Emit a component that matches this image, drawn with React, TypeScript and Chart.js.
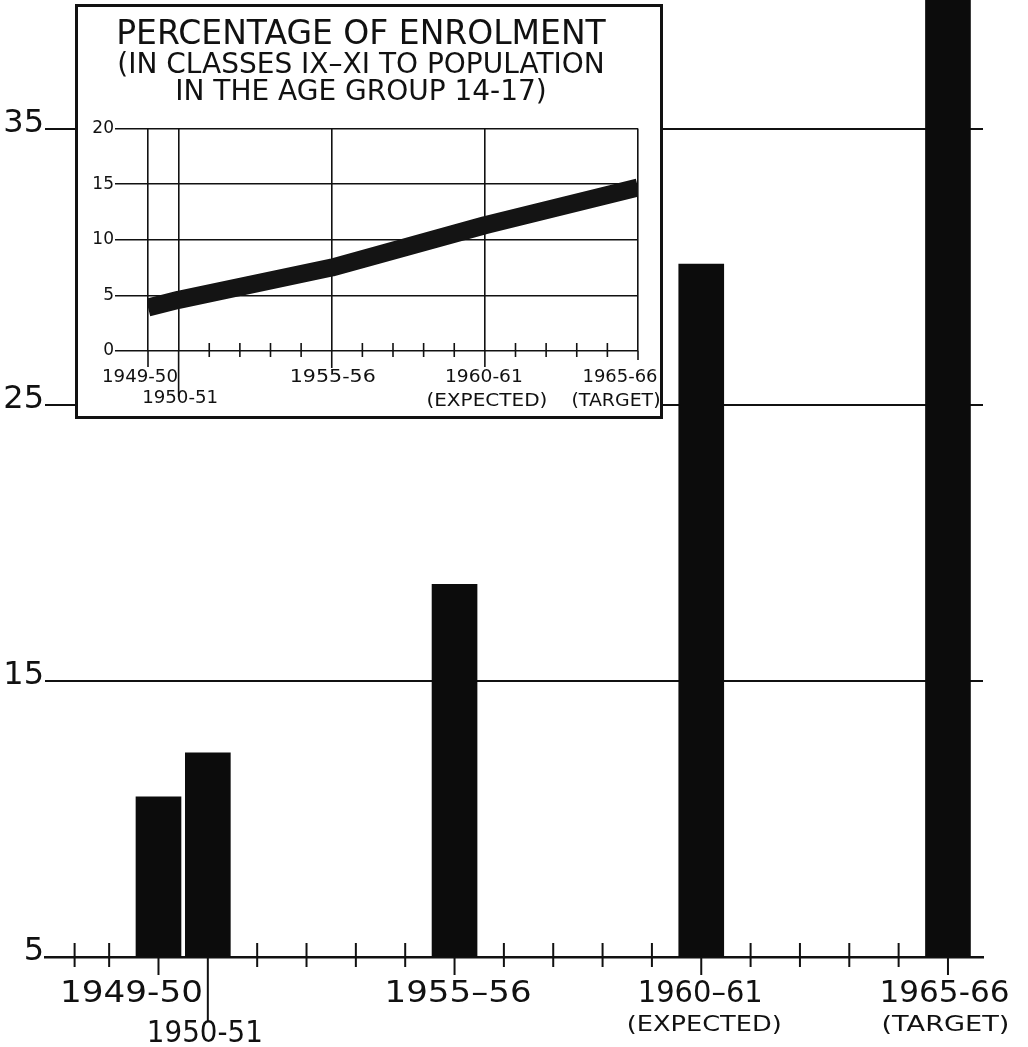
import React, { useEffect, useRef } from "react";
import { Chart, registerables } from "chart.js";

Chart.register(...registerables);

// ---------- data ----------
const MAIN_YEARS = [1949, 1950, 1955, 1960, 1965];
const MAIN_VALUES = [10.8, 12.4, 18.5, 30.1, 42];
const MAIN_Y_TICKS = [5, 15, 25, 35];
const MAIN_MINOR_TICKS = [1947.3, 1948, 1951, 1952, 1953, 1954, 1956, 1957, 1958, 1959, 1961, 1962, 1963, 1964];
const MAIN_X_LABELS = ["1949-50", "1950-51", "1955\u201356", "1960\u201361", "1965-66"];
const MAIN_X_NOTES = ["", "", "", "(EXPECTED)", "(TARGET)"];
const MAIN_X_MIN = 1946.7;
const MAIN_X_MAX = 1965.71;
const MAIN_Y_MIN = 5;
const MAIN_Y_MAX = 39.67;

const INSET_YEARS = [1949, 1950, 1955, 1960, 1965];
const INSET_VALUES = [3.9, 4.6, 7.5, 11.3, 14.7];
const INSET_Y_TICKS = [0, 5, 10, 15, 20];
const INSET_MINOR_TICKS = [1951, 1952, 1953, 1954, 1956, 1957, 1958, 1959, 1961, 1962, 1963, 1964];
const INSET_X_LABELS = ["1949-50", "1950-51", "1955-56", "1960-61", "1965-66"];
const INSET_X_NOTES = ["", "", "", "(EXPECTED)", "(TARGET)"];
const INSET_TITLE = "PERCENTAGE OF ENROLMENT";
const INSET_SUBTITLE = ["(IN CLASSES IX\u2013XI TO POPULATION", "IN THE AGE GROUP 14-17)"];

// ---------- style ----------
const INK = "#111";
const FONT = '"DejaVu Sans", sans-serif';

function fitText(ctx: CanvasRenderingContext2D, text: string, cx: number, y: number, size: number, width: number) {
  ctx.save();
  ctx.font = `${size}px ${FONT}`;
  const w = ctx.measureText(text).width || 1;
  ctx.translate(cx, y);
  ctx.scale(width / w, 1);
  ctx.textAlign = "center";
  ctx.textBaseline = "alphabetic";
  ctx.fillStyle = INK;
  ctx.fillText(text, 0, 0);
  ctx.restore();
}

function line(ctx: CanvasRenderingContext2D, x1: number, y1: number, x2: number, y2: number) {
  ctx.beginPath();
  ctx.moveTo(x1, y1);
  ctx.lineTo(x2, y2);
  ctx.stroke();
}

// layout of the main x labels (offset from tick, row, width)
const MAIN_LABEL_LAYOUT = [
  { dx: -27, row: 0, w: 143, drop: 18 },
  { dx: -3, row: 1, w: 116, drop: 65 },
  { dx: 3.5, row: 0, w: 147, drop: 18 },
  { dx: -1, row: 0, w: 125, drop: 18, ndx: 3, nw: 155 },
  { dx: -3.5, row: 0, w: 130, drop: 18, ndx: -2.5, nw: 128 },
];

const INSET_LABEL_LAYOUT = [
  { dx: -8, row: 0, w: 76, drop: 16 },
  { dx: 1.5, row: 1, w: 76, drop: 46 },
  { dx: 1, row: 0, w: 86, drop: 17 },
  { dx: -1, row: 0, w: 78, drop: 16, ndx: 2, nw: 121 },
  { dx: -18, row: 0, w: 75, drop: 9, ndx: -22, nw: 89 },
];

const mainAxisPlugin = {
  id: "mainAxis",
  afterDraw(chart: any) {
    const { ctx } = chart;
    const xs = chart.scales.x;
    const ys = chart.scales.y;
    const y0 = ys.getPixelForValue(MAIN_Y_MIN);
    ctx.save();
    ctx.strokeStyle = INK;
    ctx.lineWidth = 2;
    MAIN_MINOR_TICKS.forEach((v) => {
      const px = xs.getPixelForValue(v);
      line(ctx, px, y0 - 14, px, y0 + 10);
    });
    MAIN_YEARS.forEach((v, i) => {
      const px = xs.getPixelForValue(v);
      const L = MAIN_LABEL_LAYOUT[i];
      line(ctx, px, y0, px, y0 + L.drop);
      fitText(ctx, MAIN_X_LABELS[i], px + L.dx, y0 + (L.row ? 85 : 45), 30, L.w);
      if (MAIN_X_NOTES[i]) {
        fitText(ctx, MAIN_X_NOTES[i], px + (L as any).ndx, y0 + 74, 21, (L as any).nw);
      }
    });
    ctx.restore();
  },
};

const insetAxisPlugin = {
  id: "insetAxis",
  afterDraw(chart: any) {
    const { ctx } = chart;
    const xs = chart.scales.x;
    const ys = chart.scales.y;
    const y0 = ys.getPixelForValue(0);
    ctx.save();
    ctx.strokeStyle = INK;
    ctx.lineWidth = 1.6;
    INSET_MINOR_TICKS.forEach((v) => {
      const px = xs.getPixelForValue(v);
      line(ctx, px, y0 - 8, px, y0 + 6);
    });
    INSET_YEARS.forEach((v, i) => {
      const px = xs.getPixelForValue(v);
      const L = INSET_LABEL_LAYOUT[i];
      line(ctx, px, y0, px, y0 + L.drop);
      fitText(ctx, INSET_X_LABELS[i], px + L.dx, y0 + (L.row ? 52 : 31), 18.5, L.w);
      if (INSET_X_NOTES[i]) {
        fitText(ctx, INSET_X_NOTES[i], px + (L as any).ndx, y0 + 55, 17.5, (L as any).nw);
      }
    });
    ctx.restore();
  },
};

export default function App() {
  const mainRef = useRef<HTMLCanvasElement>(null);
  const insetRef = useRef<HTMLCanvasElement>(null);

  useEffect(() => {
    Chart.defaults.font.family = FONT;
    const main = new Chart(mainRef.current as HTMLCanvasElement, {
      type: "bar",
      data: {
        datasets: [
          {
            data: MAIN_YEARS.map((yr, i) => ({ x: yr, y: MAIN_VALUES[i] })),
            backgroundColor: "#0c0c0c",
            borderWidth: 0,
            barThickness: 45,
          },
        ],
      },
      options: {
        responsive: false,
        animation: false,
        layout: { padding: { left: 0, right: 45, top: 0, bottom: 0 } },
        plugins: { legend: { display: false }, tooltip: { enabled: false } },
        scales: {
          x: {
            type: "linear",
            offset: false,
            min: MAIN_X_MIN,
            max: MAIN_X_MAX,
            ticks: { display: false },
            grid: { display: true, offset: false, drawOnChartArea: false, drawTicks: false, color: "rgba(0,0,0,0)" },
            border: { display: true, color: INK, width: 2.5 },
            afterFit: (s: any) => {
              s.height = 90;
              s.paddingLeft = 0;
              s.paddingRight = 0;
            },
          },
          y: {
            type: "linear",
            min: MAIN_Y_MIN,
            max: MAIN_Y_MAX,
            afterBuildTicks: (s: any) => {
              s.ticks = MAIN_Y_TICKS.map((v) => ({ value: v }));
            },
            ticks: { font: { size: 32, family: FONT }, color: INK, padding: 1, labelOffset: -5 },
            grid: {
              color: (c: any) => (c.tick && c.tick.value === MAIN_Y_MIN ? "rgba(0,0,0,0)" : INK),
              lineWidth: 2,
              drawTicks: false,
            },
            border: { display: false },
            afterFit: (s: any) => {
              s.width = 45;
              s.paddingTop = 0;
              s.paddingBottom = 0;
            },
          },
        },
      } as any,
      plugins: [mainAxisPlugin],
    });

    const inset = new Chart(insetRef.current as HTMLCanvasElement, {
      type: "line",
      data: {
        datasets: [
          {
            data: INSET_YEARS.map((yr, i) => ({ x: yr, y: INSET_VALUES[i] })),
            borderColor: "#141414",
            borderWidth: 18,
            borderCapStyle: "butt",
            borderJoinStyle: "round",
            pointRadius: 0,
            tension: 0,
            fill: false,
          },
        ],
      },
      options: {
        responsive: false,
        animation: false,
        layout: { padding: { left: 6, right: 22, top: 0, bottom: 0 } },
        plugins: {
          legend: { display: false },
          tooltip: { enabled: false },
          title: {
            display: true,
            text: INSET_TITLE,
            color: INK,
            font: { size: 33, family: FONT, weight: "normal", lineHeight: 1 },
            padding: { top: 12, bottom: 0 },
          },
          subtitle: {
            display: true,
            text: INSET_SUBTITLE,
            color: INK,
            font: { size: 28, family: FONT, weight: "normal", lineHeight: 27 / 28 },
            padding: { top: 0, bottom: 22.5 },
          },
        },
        scales: {
          x: {
            type: "linear",
            min: INSET_YEARS[0],
            max: INSET_YEARS[INSET_YEARS.length - 1],
            afterBuildTicks: (s: any) => {
              s.ticks = INSET_YEARS.map((v) => ({ value: v }));
            },
            ticks: { display: false },
            grid: { color: INK, lineWidth: 1.6, drawTicks: false },
            border: { display: false },
            afterFit: (s: any) => {
              s.height = 65;
              s.paddingLeft = 0;
              s.paddingRight = 0;
            },
          },
          y: {
            type: "linear",
            min: INSET_Y_TICKS[0],
            max: INSET_Y_TICKS[INSET_Y_TICKS.length - 1],
            afterBuildTicks: (s: any) => {
              s.ticks = INSET_Y_TICKS.map((v) => ({ value: v }));
            },
            ticks: { font: { size: 17, family: FONT }, color: INK, padding: 1 },
            grid: { color: INK, lineWidth: 1.6, drawTicks: true, tickLength: 33 },
            border: { display: false },
            afterFit: (s: any) => {
              s.width = 64;
              s.paddingTop = 0;
              s.paddingBottom = 0;
            },
          },
        },
      } as any,
      plugins: [insetAxisPlugin],
    });

    return () => {
      main.destroy();
      inset.destroy();
    };
  }, []);

  return (
    <div style={{ position: "absolute", left: 0, top: 0, width: 1028, height: 1047, background: "#fff" }}>
      <canvas
        ref={mainRef}
        width={1028}
        height={1047}
        style={{ position: "absolute", left: 0, top: 0, width: 1028, height: 1047 }}
      />
      <div
        style={{
          position: "absolute",
          left: 75,
          top: 4,
          width: 582,
          height: 409,
          border: `3px solid ${INK}`,
          background: "#fff",
        }}
      >
        <canvas ref={insetRef} width={582} height={409} style={{ display: "block", width: 582, height: 409 }} />
      </div>
    </div>
  );
}
